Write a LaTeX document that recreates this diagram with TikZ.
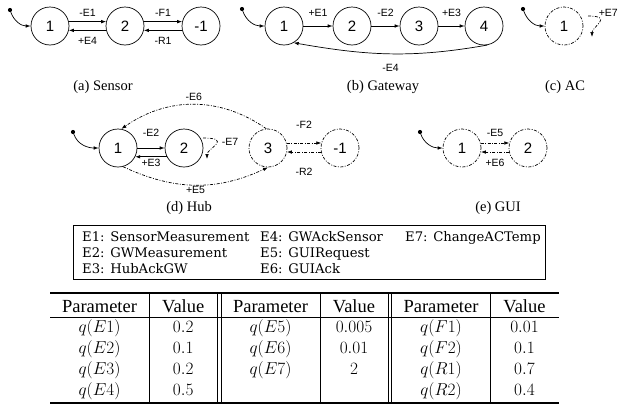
\documentclass[tikz,border=0pt]{standalone}
\usepackage{fontspec}
\setmainfont{Liberation Serif}
\newfontfamily\labelsans{Liberation Sans}
\newfontfamily\legendserif{DejaVu Serif}
\usetikzlibrary{arrows.meta,calc}

\tikzset{
  dashdot/.style={dash pattern=on 3pt off 1.5pt on 0.9pt off 1.5pt},
  state/.style={circle, draw, line width=0.7pt, minimum size=38pt, inner sep=0pt,
    font=\labelsans\fontsize{15}{15}\selectfont},
  dstate/.style={state, dashdot},
  trans/.style={line width=0.7pt, -{Latex[length=5pt,width=3.6pt]}},
  dtrans/.style={trans, dashdot},
  elabel/.style={font=\labelsans\fontsize{10.5}{11}\selectfont, inner sep=1pt},
  initdot/.style={circle, fill, inner sep=0pt, minimum size=4.2pt},
  subcap/.style={font=\fontsize{14.5}{16}\selectfont, inner sep=0pt},
  legtext/.style={font=\legendserif\fontsize{13.2}{15}\selectfont, inner sep=0pt, anchor=base west},
  tabtext/.style={font=\fontsize{18.5}{20}\selectfont, inner sep=0pt, anchor=base},
  thickrule/.style={line width=1.6pt},
  thinrule/.style={line width=0.6pt},
}

\begin{document}
\begin{tikzpicture}[x=1pt,y=-1pt]
\useasboundingbox (0,0) rectangle (618,410);

% ---------- (a) Sensor ----------
\node[state] (s1) at (50,26) {1};
\node[state] (s2) at (125,26) {2};
\node[state] (s3) at (201,26) {-1};
\node[initdot] (s0) at (10,10) {};
\draw[trans] (s0) to[out=-70,in=180] (s1);
\draw[trans] (s1.13) -- node[above=4pt, elabel] {-E1} (s2.167);
\draw[trans] (s2.-167) -- node[below=6pt, elabel] {+E4} (s1.-13);
\draw[trans] (s2.13) -- node[above=4pt, elabel] {-F1} (s3.167);
\draw[trans] (s3.-167) -- node[below=6pt, elabel] {-R1} (s2.-13);
\node[subcap] (capa) at (103,87) {(a) Sensor};

% ---------- (b) Gateway ----------
\node[state] (g1) at (284,26) {1};
\node[state] (g2) at (352,26) {2};
\node[state] (g3) at (419,26) {3};
\node[state] (g4) at (484,26) {4};
\node[initdot] (g0) at (242,9) {};
\draw[trans] (g0) to[out=-70,in=180] (g1);
\draw[trans] (g1) -- node[above=8pt, elabel] {+E1} (g2);
\draw[trans] (g2) -- node[above=8pt, elabel] {-E2} (g3);
\draw[trans] (g3) -- node[above=8pt, elabel] {+E3} (g4);
\draw[trans] (g4.-80) to[out=-170,in=-10] node[below=9pt, elabel] {-E4} (g1.-60);
\node[subcap] (capb) at (383,87) {(b) Gateway};

% ---------- (c) AC ----------
\node[dstate] (c1) at (564,26) {1};
\node[initdot] (c0) at (523,9) {};
\draw[trans] (c0) to[out=-70,in=180] (c1);
\coordinate (c1a) at ($(c1)+(24,-10)$);
\coordinate (c1b) at ($(c1)+(28,11)$);
\draw[dtrans] (c1a) to[out=0,in=90,out distance=26pt,in distance=10pt]
  node[pos=0.12, anchor=west, xshift=2pt, yshift=4pt, elabel] {+E7} (c1b);
\node[subcap] (capc) at (565,87) {(c) AC};

% ---------- (d) Hub ----------
\node[state] (h1) at (118,148) {1};
\node[state] (h2) at (184,148) {2};
\node[dstate] (h3) at (268,148) {3};
\node[dstate] (h4) at (340,148) {-1};
\node[initdot] (h0) at (73,132) {};
\draw[trans] (h0) to[out=-70,in=180] (h1);
\draw[trans] (h1.0) -- node[above=10pt, elabel] {-E2} (h2.180);
\draw[trans] (h2.-153) -- node[below=1pt, elabel] {+E3} (h1.-27);
\coordinate (h2a) at ($(h2)+(19,-10)$);
\coordinate (h2b) at ($(h2)+(23,11)$);
\draw[dtrans] (h2a) to[out=0,in=90,out distance=30pt,in distance=10pt]
  node[pos=0.35, right=3pt, elabel] {-E7} (h2b);
\draw[dtrans] (h3.15) -- node[above=13.5pt, elabel] {-F2} (h4.165);
\draw[dtrans] (h4.-168) -- node[below=14.5pt, elabel] {-R2} (h3.-12);
\draw[dtrans] (h3.95) to[out=145,in=35] node[above=3pt, elabel] {-E6} (h1.80);
\draw[dtrans] (h1.-75) to[out=-25,in=-155] node[below=0pt, elabel] {+E5} (h3.-90);
\node[subcap] (capd) at (189,208) {(d) Hub};

% ---------- (e) GUI ----------
\node[dstate] (u1) at (462,148) {1};
\node[dstate] (u2) at (528,148) {2};
\node[initdot] (u0) at (420,132) {};
\draw[trans] (u0) to[out=-70,in=180] (u1);
\draw[dtrans] (u1.15) -- node[above=5pt, elabel] {-E5} (u2.165);
\draw[dtrans] (u2.-168) -- node[below=6pt, elabel] {+E6} (u1.-12);
\node[subcap] (cape) at (498,208) {(e) GUI};

% ---------- event legend ----------
\node[draw, line width=0.8pt, minimum width=472pt, minimum height=54pt, inner sep=0pt] (legbox) at (309,252) {};
\node[legtext] (l1) at (82,241) {E1: SensorMeasurement};
\node[legtext] (l2) at (82,257.5) {E2: GWMeasurement};
\node[legtext] (l3) at (82,273) {E3: HubAckGW};
\node[legtext] (l4) at (260,241) {E4: GWAckSensor};
\node[legtext] (l5) at (260,257.5) {E5: GUIRequest};
\node[legtext] (l6) at (260,273) {E6: GUIAck};
\node[legtext] (l7) at (405,241) {E7: ChangeACTemp};

% ---------- rate table ----------
\draw[thickrule] (50,293) -- (558.5,293);
\draw[thinrule] (50,317) -- (558.5,317);
\draw[thickrule] (50,403) -- (558.5,403);
\foreach \x in {149,217.5,221,320,388,391.5,490.5}
  \draw[thinrule] (\x,293) -- (\x,403);

\foreach \cx/\txt [count=\i] in {99.5/Parameter,183.25/Value,270.5/Parameter,354/Value,441/Parameter,524.5/Value}
  \node[tabtext] (hd\i) at (\cx,312) {\txt};

\foreach \yy/\a/\b/\c/\d/\e/\f [count=\r] in {
   332/$q(E1)$/$0.2$/$q(E5)$/$0.005$/$q(F1)$/$0.01$,
   353/$q(E2)$/$0.1$/$q(E6)$/$0.01$/$q(F2)$/$0.1$,
   374/$q(E3)$/$0.2$/$q(E7)$/$2$/$q(R1)$/$0.7$,
   395/$q(E4)$/$0.5$/{}/{}/$q(R2)$/$0.4$}
{
  \node[tabtext] (r\r c1) at (99.5,\yy) {\a};
  \node[tabtext] (r\r c2) at (183.25,\yy) {\b};
  \node[tabtext] (r\r c3) at (270.5,\yy) {\c};
  \node[tabtext] (r\r c4) at (354,\yy) {\d};
  \node[tabtext] (r\r c5) at (441,\yy) {\e};
  \node[tabtext] (r\r c6) at (524.5,\yy) {\f};
}
\end{tikzpicture}
\end{document}
